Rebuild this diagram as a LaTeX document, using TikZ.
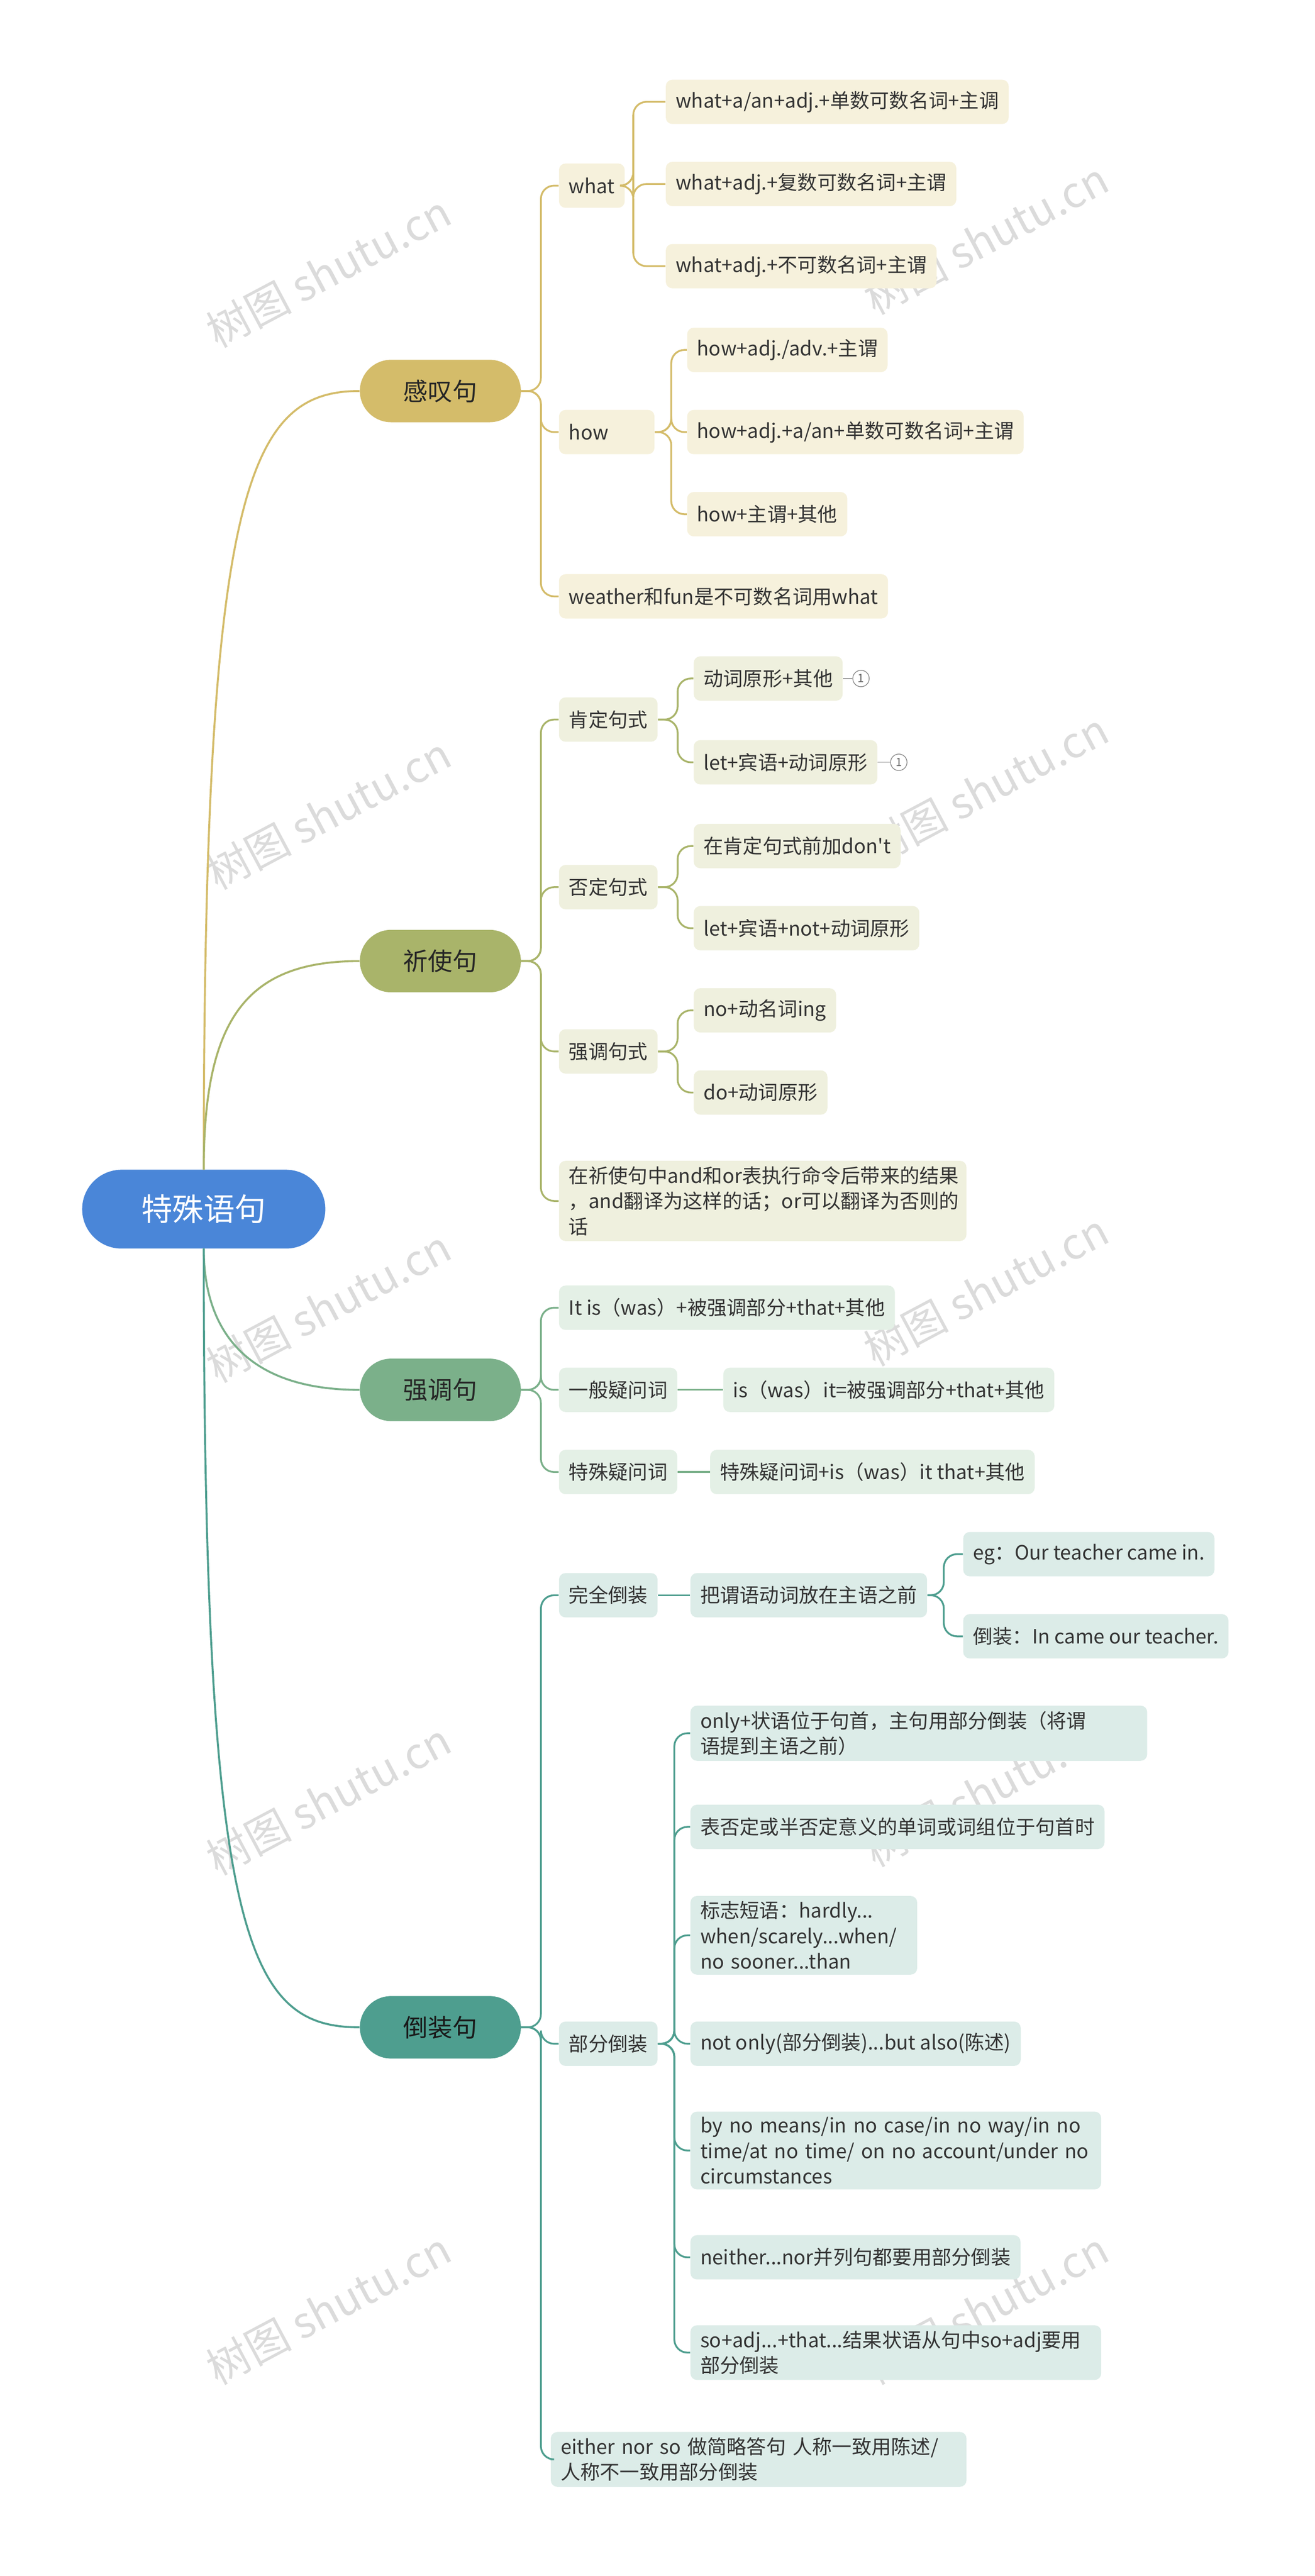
\documentclass[tikz,border=0pt]{standalone}
\usepackage{fontspec}
\setmainfont{Noto Sans CJK SC}
\newfontfamily\cjk{Noto Sans CJK SC}
\begin{document}
\begin{tikzpicture}[x=1pt,y=-1pt,
  base/.style={anchor=west,rounded corners=4pt,inner xsep=6pt,minimum height=27pt,font=\cjk\fontsize{12}{15.5}\selectfont,align=left},
  la/.style={base,fill=#1,text=black!80},
  l1/.style={anchor=center,rounded corners=19pt,minimum width=98pt,minimum height=38pt,fill=#1,font=\cjk\fontsize{15}{18}\selectfont,text=black!85},
  cn/.style={draw=#1,line width=1.2pt},
  br/.style={draw=#1,line width=1.1pt,rounded corners=8pt},
  wm/.style={text=black!14,rotate=28,font=\cjk\fontsize{26}{30}\selectfont}]
\useasboundingbox (0,0) rectangle (800,1568);
\definecolor{cA}{HTML}{D4BC6A}\definecolor{cB}{HTML}{A9B46A}
\definecolor{cC}{HTML}{7BB08A}\definecolor{cD}{HTML}{4E9E8F}
\definecolor{fA}{HTML}{F6F1DC}\definecolor{fB}{HTML}{EFF0DE}
\definecolor{fC}{HTML}{E4F0E6}\definecolor{fD}{HTML}{DCECE8}
\definecolor{root}{HTML}{4A86D8}
\foreach \x/\y in {200/165,600/145,200/495,600/480,200/795,600/785,200/1095,600/1090,200/1405,600/1405}
  \node[wm] at (\x,\y) {树图 shutu.cn};
% root
\node[anchor=center,rounded corners=24pt,minimum width=148pt,minimum height=48pt,fill=root,text=white,font=\cjk\fontsize{19}{22}\selectfont] (R) at (124,736) {特殊语句};
\node[l1=cA] (A) at (268,238) {感叹句};
\node[l1=cB] (B) at (268,585) {祈使句};
\node[l1=cC] (C) at (268,846) {强调句};
\node[l1=cD,text=black!90] (D) at (268,1234) {倒装句};
\coordinate (Rt) at (124,712); \coordinate (Rb) at (124,760);
\draw[cn=cA] (Rt) .. controls (124,300) and (150,238) .. (A.west);
\draw[cn=cB] (Rt) .. controls (124,620) and (150,585) .. (B.west);
\draw[cn=cC] (Rb) .. controls (124,810) and (150,846) .. (C.west);
\draw[cn=cD] (Rb) .. controls (124,1180) and (150,1234) .. (D.west);
% A
\node[la=fA] (A1) at (340,113) {what};
\node[la=fA] (A2) at (340,263) {how\hspace{22pt}};
\node[la=fA] (A3) at (340,363) {weather和fun是不可数名词用what};
\foreach \c in {A1,A2,A3} \draw[br=cA] (A.east) -- ++(12,0) |- (\c.west);
\node[la=fA] (A11) at (405,62) {what+a/an+adj.+单数可数名词+主调};
\node[la=fA] (A12) at (405,112) {what+adj.+复数可数名词+主谓};
\node[la=fA] (A13) at (405,162) {what+adj.+不可数名词+主谓};
\foreach \c in {A11,A12,A13} \draw[br=cA] (A1.east) -- ++(5,0) |- (\c.west);
\node[la=fA] (A21) at (418,213) {how+adj./adv.+主谓};
\node[la=fA] (A22) at (418,263) {how+adj.+a/an+单数可数名词+主谓};
\node[la=fA] (A23) at (418,313) {how+主谓+其他};
\foreach \c in {A21,A22,A23} \draw[br=cA] (A2.east) -- ++(10,0) |- (\c.west);
% B
\node[la=fB] (B1) at (340,438) {肯定句式};
\node[la=fB] (B2) at (340,540) {否定句式};
\node[la=fB] (B3) at (340,640) {强调句式};
\node[la=fB,text width=236pt] (B4) at (340,731) {在祈使句中and和or表执行命令后带来的结果\\，and翻译为这样的话；or可以翻译为否则的\\话};
\foreach \c in {B1,B2,B3,B4} \draw[br=cB] (B.east) -- ++(12,0) |- (\c.west);
\node[la=fB] (B11) at (422,413) {动词原形+其他};
\node[la=fB] (B12) at (422,464) {let+宾语+动词原形};
\node[la=fB] (B21) at (422,515) {在肯定句式前加don't};
\node[la=fB] (B22) at (422,565) {let+宾语+not+动词原形};
\node[la=fB] (B31) at (422,615) {no+动名词ing};
\node[la=fB] (B32) at (422,665) {do+动词原形};
\foreach \p/\c in {B1/B11,B1/B12,B2/B21,B2/B22,B3/B31,B3/B32} \draw[br=cB] (\p.east) -- ++(12,0) |- (\c.west);
\node[circle,draw=black!50,inner sep=0.5pt,minimum size=10pt,font=\fontsize{7}{8}\selectfont,text=black!60] (m1) at (524,413) {1};
\node[circle,draw=black!50,inner sep=0.5pt,minimum size=10pt,font=\fontsize{7}{8}\selectfont,text=black!60] (m2) at (547,464) {1};
\draw[black!40] (B11.east) -- (m1.west); \draw[black!40] (B12.east) -- (m2.west);
% C
\node[la=fC] (C1) at (340,796) {It is（was）+被强调部分+that+其他};
\node[la=fC] (C2) at (340,846) {一般疑问词};
\node[la=fC] (C3) at (340,896) {特殊疑问词};
\foreach \c in {C1,C2,C3} \draw[br=cC] (C.east) -- ++(12,0) |- (\c.west);
\node[la=fC] (C21) at (440,846) {is（was）it=被强调部分+that+其他};
\node[la=fC] (C31) at (432,896) {特殊疑问词+is（was）it that+其他};
\draw[cn=cC,line width=1.1pt] (C2.east) -- (C21.west);
\draw[cn=cC,line width=1.1pt] (C3.east) -- (C31.west);
% D
\node[la=fD] (D1) at (340,971) {完全倒装};
\node[la=fD] (D2) at (340,1244) {部分倒装};
\node[la=fD,text width=241pt] (D3) at (335,1497) {either nor so 做简略答句 人称一致用陈述/\\人称不一致用部分倒装};
\foreach \c in {D1,D2,D3} \draw[br=cD] (D.east) -- ++(12,0) |- (\c.west);
\node[la=fD] (D11) at (420,971) {把谓语动词放在主语之前};
\draw[cn=cD,line width=1.1pt] (D1.east) -- (D11.west);
\node[la=fD] (D111) at (586,946) {eg：Our teacher came in.};
\node[la=fD] (D112) at (586,996) {倒装：In came our teacher.};
\foreach \c in {D111,D112} \draw[br=cD] (D11.east) -- ++(10,0) |- (\c.west);
\node[la=fD,text width=266pt] (E1) at (420,1055) {only+状语位于句首，主句用部分倒装（将谓\\语提到主语之前）};
\node[la=fD] (E2) at (420,1112) {表否定或半否定意义的单词或词组位于句首时};
\node[la=fD,text width=126pt] (E3) at (420,1178) {标志短语：hardly...\\when/scarely...when/\\no sooner...than};
\node[la=fD] (E4) at (420,1244) {not only(部分倒装)...but also(陈述)};
\node[la=fD,text width=238pt] (E5) at (420,1309) {by no means/in no case/in no way/in no\\time/at no time/ on no account/under no\\ circumstances};
\node[la=fD] (E6) at (420,1374) {neither...nor并列句都要用部分倒装};
\node[la=fD,text width=238pt] (E7) at (420,1432) {so+adj...+that...结果状语从句中so+adj要用\\部分倒装};
\foreach \c in {E1,E2,E3,E4,E5,E6,E7} \draw[br=cD] (D2.east) -- ++(10,0) |- (\c.west);
\end{tikzpicture}
\end{document}
